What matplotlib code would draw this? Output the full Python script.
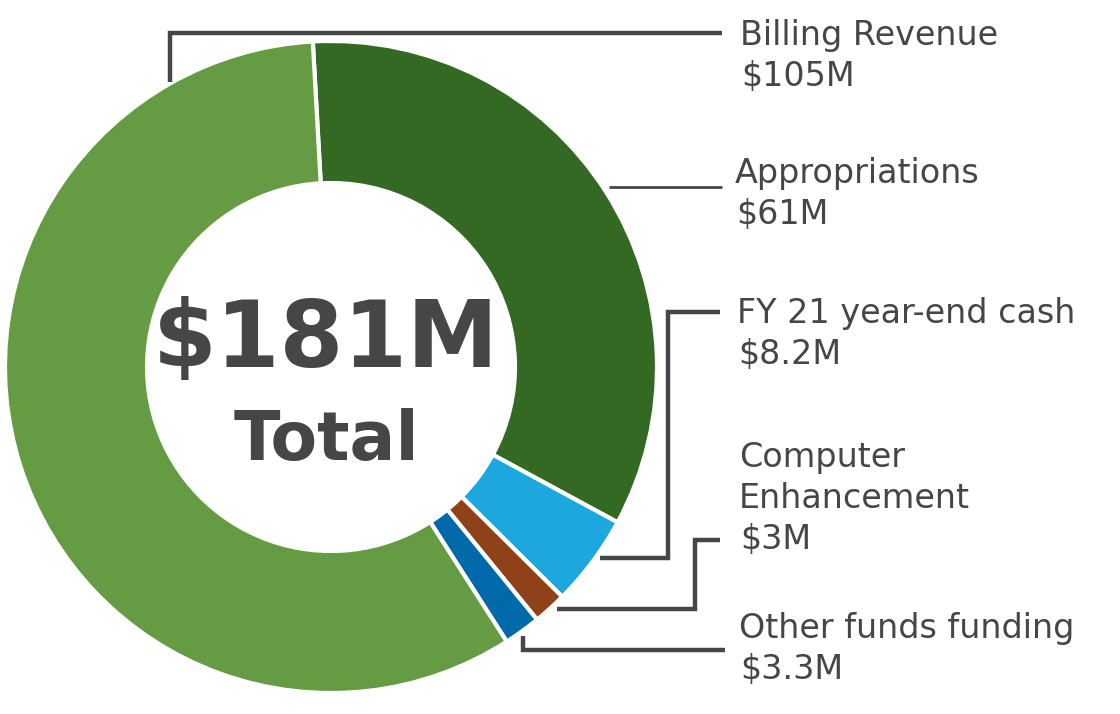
import matplotlib.pyplot as plt

# slices, clockwise from the top
names = ["Appropriations", "FY 21 year-end cash", "Computer\nEnhancement", "Other funds funding", "Billing Revenue"]
values = [61, 8.2, 3, 3.3, 105]
value_labels = ["$61M", "$8.2M", "$3M", "$3.3M", "$105M"]
colors = ["#336922", "#1CA7DF", "#8F4118", "#0069AA", "#659B42"]
total_text = "$181M"
total_sub = "Total"

TXT = "#464646"

# label anchors (left x, first baseline) and leader lines, in pixels
label_pos = [(735, 183), (737, 323), (739, 467), (739, 638), (740, 45)]
leaders = [
    ([609, 722], [187, 187]),
    ([600, 668, 668, 720], [558, 558, 312, 312]),
    ([557, 695, 695, 720], [609, 609, 540, 540]),
    ([523, 523, 725], [636, 650, 650]),
    ([170, 170, 722], [82, 33, 33]),
]
leader_lw = [2.0, 3.2, 3.2, 3.2, 3.2]

fig = plt.figure(figsize=(11.2, 7.14), dpi=100)
ax = fig.add_axes([0, 0, 1, 1])

# y axis is flipped below, so a negative start angle + counterclock reads clockwise from ~93 deg
ax.pie(values, colors=colors, startangle=-93.2, counterclock=True,
       center=(331, 367), radius=326,
       wedgeprops=dict(width=142, edgecolor="white", linewidth=3))

ax.set_xlim(0, 1120)
ax.set_ylim(714, 0)
ax.axis("off")

for (xs, ys), lw in zip(leaders, leader_lw):
    ax.plot(xs, ys, color=TXT, lw=lw, solid_joinstyle="miter", solid_capstyle="butt")

step = 41
for name, val, (x, y) in zip(names, value_labels, label_pos):
    lines = name.split("\n")
    for i, ln in enumerate(lines):
        ax.text(x, y + i * step, ln, fontsize=24, color=TXT, va="baseline", ha="left")
    ax.text(x + 1, y + len(lines) * step, val, fontsize=24, color=TXT, va="baseline", ha="left")

ax.text(326, 367, total_text, fontsize=66, fontweight="bold", color=TXT, ha="center", va="baseline")
ax.text(326, 460, total_sub, fontsize=49, fontweight="bold", color=TXT, ha="center", va="baseline")

fig.savefig("out.png", dpi=100)
